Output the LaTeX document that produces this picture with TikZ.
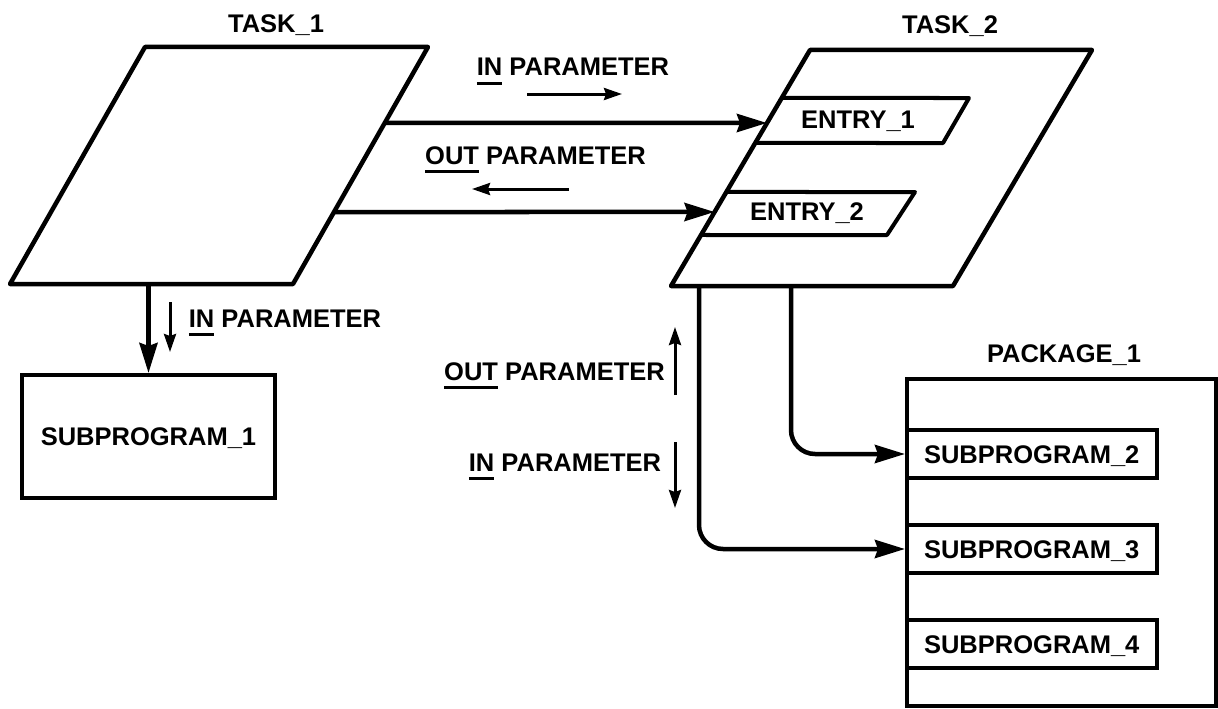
\documentclass[tikz,border=0pt]{standalone}
\usepackage{fontspec}
\setmainfont{Liberation Sans}
\usetikzlibrary{arrows.meta,calc,positioning}

\newcommand\lblfont{\fontsize{25.5}{30}\selectfont\bfseries}
% underlined word with a thick rule
\newcommand\ulword[1]{\setbox0=\hbox{#1}\rlap{\rule[-9pt]{\wd0}{3pt}}\box0\relax}

\begin{document}
\begin{tikzpicture}[x=1pt, y=-1pt,
        % common styles
        lbl/.style={font=\lblfont, text height=18pt, text depth=0pt, inner sep=0pt},
        para/.style={draw, line width=4.5pt, line join=round},
        box/.style={rectangle, draw, line width=4pt, font=\lblfont,
            text height=18pt, text depth=0pt},
        sub/.style={box, line width=3.5pt, minimum width=250pt, minimum height=48pt},
        arr/.style={-{Stealth[length=30pt, width=18pt, inset=3pt]}, line width=4.5pt},
        small/.style={-{Stealth[length=18pt, width=12pt, inset=2pt]}, line width=3pt}
    ]
        \useasboundingbox (0,0) rectangle (1218,709);

        % TASK_1
        \coordinate (t1tl) at (145,47);
        \coordinate (t1tr) at (428,47);
        \coordinate (t1br) at (293,284);
        \coordinate (t1bl) at (10,284);
        \draw[para] (t1bl) -- (t1br) -- (t1tr) -- (t1tl) -- cycle;
        \node[lbl] (task1) at (276,24) {TASK\_1};

        % TASK_2 with its entries
        \coordinate (t2tl) at (810,50);
        \coordinate (t2tr) at (1092,50);
        \coordinate (t2br) at (953,286);
        \coordinate (t2bl) at (671,286);
        \draw[para] (t2bl) -- (t2br) -- (t2tr) -- (t2tl) -- cycle;
        \node[lbl] (task2) at (950,25) {TASK\_2};

        \coordinate (e1tl) at ($(t2tl)!{48/236}!(t2bl)$);
        \coordinate (e1bl) at ($(t2tl)!{93/236}!(t2bl)$);
        \draw[para, line width=4pt] (e1bl) -- (943,143) -- (969,98) -- (e1tl);
        \node[lbl] (entry1) at (858,119) {ENTRY\_1};

        \coordinate (e2tl) at ($(t2tl)!{142/236}!(t2bl)$);
        \coordinate (e2bl) at ($(t2tl)!{185/236}!(t2bl)$);
        \draw[para, line width=4pt] (e2bl) -- (887,235) -- (915,192) -- (e2tl);
        \node[lbl] (entry2) at (807,211) {ENTRY\_2};

        % SUBPROGRAM_1
        \node[box, minimum width=253pt, minimum height=123pt] (sub1) at (148.5,436.5) {SUBPROGRAM\_1};

        % PACKAGE_1
        \node[box, minimum width=309pt, minimum height=327pt] (pkg) at (1061.5,542.5) {};
        \node[lbl] (pkglbl) at (1064,353) {PACKAGE\_1};
        \node[sub, anchor=west] (sub2) at (pkg.west |- 0,454) {SUBPROGRAM\_2};
        \node[sub, anchor=west] (sub3) at (pkg.west |- 0,549) {SUBPROGRAM\_3};
        \node[sub, anchor=west] (sub4) at (pkg.west |- 0,644) {SUBPROGRAM\_4};

        % calls between the tasks
        \coordinate (a1) at ($(t1tr)!{76/237}!(t1br)$);
        \coordinate (b1) at ($(t2tl)!{73/236}!(t2bl)$);
        \coordinate (a2) at ($(t1tr)!{165/237}!(t1br)$);
        \coordinate (b2) at ($(t2tl)!{162/236}!(t2bl)$);
        \draw[arr] (a1) -- (b1);
        \draw[arr] (a2) -- (b2);

        \node[lbl] (inpar1) at (573,67) {\ulword{IN} PARAMETER};
        \draw[small] (527,94) -- (622,94);
        \node[lbl] (outpar1) at (535.5,155) {\ulword{OUT} PARAMETER};
        \draw[small] (569,189) -- (472,189);

        % calls to the subprograms
        \draw[arr] (sub1.north |- t1bl) -- (sub1.north);
        \node[lbl] (inpar2) at (285,318) {\ulword{IN} PARAMETER};
        \draw[small] (170,302) -- (170,352);

        \coordinate (t2o1) at ($(t2bl)!{120/282}!(t2br)$);
        \coordinate (t2o2) at ($(t2bl)!{28/282}!(t2br)$);
        \draw[arr, rounded corners=24pt] (t2o1) |- (sub2.west);
        \draw[arr, rounded corners=24pt] (t2o2) |- (sub3.west);

        \node[lbl] (outpar2) at (554.5,371) {\ulword{OUT} PARAMETER};
        \draw[small] (675,395) -- (675,327);
        \node[lbl] (inpar3) at (565,462) {\ulword{IN} PARAMETER};
        \draw[small] (675,442) -- (675,508);

    \end{tikzpicture}
\end{document}
